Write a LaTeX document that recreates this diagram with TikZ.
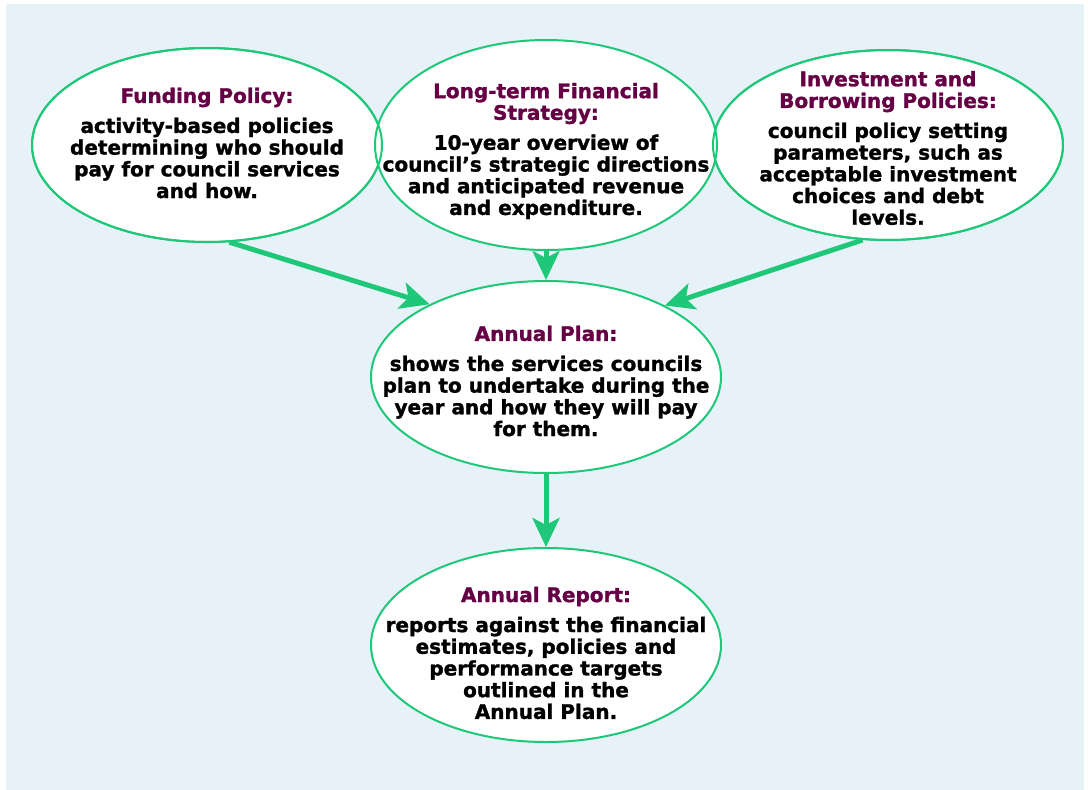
\documentclass[tikz,border=0pt]{standalone}
\usepackage{fontspec}
\setmainfont[BoldFeatures={FakeBold=1.4}]{DejaVu Sans}
\usetikzlibrary{shapes.geometric,arrows.meta}
\definecolor{bgblue}{RGB}{231,242,248}
\definecolor{lgreen}{RGB}{30,200,120}
\definecolor{ttl}{RGB}{102,0,68}
\newcommand{\ttlline}[1]{\textcolor{ttl}{#1}}
\begin{document}
\begin{tikzpicture}[x=1pt,y=-1pt,
  ell/.style={ellipse,draw=lgreen,line width=2pt,fill=white,inner sep=0pt},
  txt/.style={align=center,font=\bfseries\fontsize{20}{21.7}\selectfont,inner sep=0pt},
  flow/.style={draw=lgreen,line width=5pt,-{Stealth[length=29pt,width=27pt,inset=7pt]}}]
\useasboundingbox (0,0) rectangle (1088,790);
\fill[bgblue] (6,4) rectangle (1084,790);
% ellipses
\node[ell,minimum width=350pt,minimum height=194pt] (fund) at (207,145) {};
\node[ell,minimum width=350pt,minimum height=190pt] (inv) at (888,145) {};
\node[ell,minimum width=342pt,minimum height=210pt] (lts) at (546,145) {};
\draw[lgreen,line width=2pt] (fund.center) ellipse [x radius=175pt,y radius=97pt];
\draw[lgreen,line width=2pt] (inv.center) ellipse [x radius=175pt,y radius=95pt];
\node[ell,minimum width=350pt,minimum height=192pt] (plan) at (546,377) {};
\node[ell,minimum width=350pt,minimum height=194pt] (rep) at (546,645) {};
% texts
\node[txt] (fundtxt) at (207,143) {\ttlline{Funding Policy:}\\[8.3pt]
activity-based policies\\determining who should\\pay for council services\\and how.};
\node[txt] (ltstxt) at (546,151) {\ttlline{Long-term Financial}\\\ttlline{Strategy:}\\[8.3pt]
10-year overview of\\council's strategic directions\\and anticipated revenue\\and expenditure.};
\node[txt] (invtxt) at (888,148) {\ttlline{Investment and}\\\ttlline{Borrowing Policies:}\\[8.3pt]
council policy setting\\parameters, such as\\acceptable investment\\choices and debt\\levels.};
\node[txt] (plantxt) at (546,381) {\ttlline{Annual Plan:}\\[8.3pt]
shows the services councils\\plan to undertake during the\\year and how they will pay\\for them.};
\node[txt] (reptxt) at (546,653) {\ttlline{Annual Report:}\\[8.3pt]
reports against the financial\\estimates, policies and\\performance targets\\outlined in the\\Annual Plan.};
% connectors
\draw[flow] (fund.-77) -- (plan.148);
\draw[flow] (lts.south) -- (plan.north);
\draw[flow] (inv.-105) -- (plan.31);
\draw[flow] (plan.south) -- (rep.north);
\end{tikzpicture}
\end{document}
